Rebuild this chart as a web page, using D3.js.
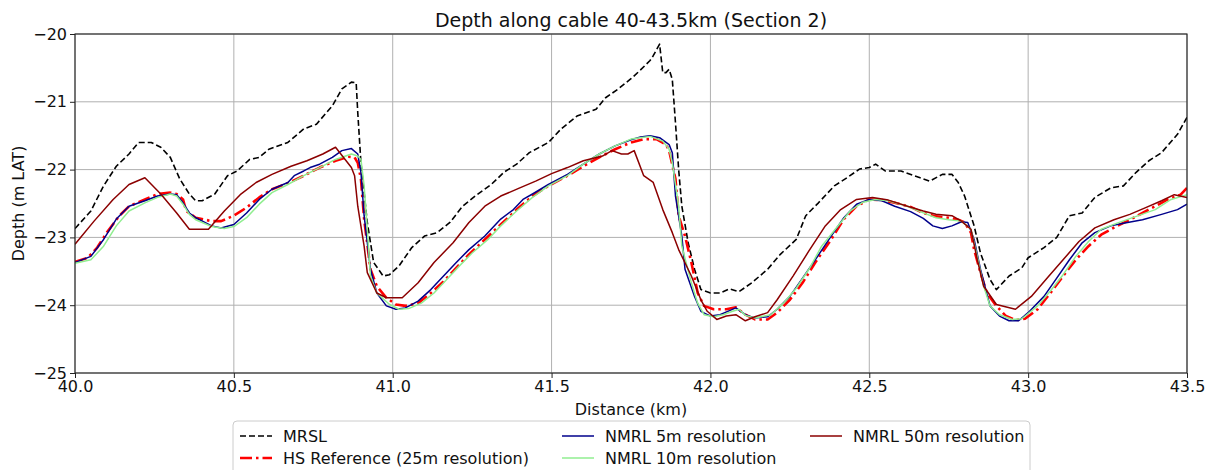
<!DOCTYPE html>
<html>
<head>
<meta charset="utf-8">
<script src="https://cdn.jsdelivr.net/npm/d3@7"></script>
<style>
  html, body { margin: 0; padding: 0; background: #fff; }
  svg { display: block; font-family: "DejaVu Sans", sans-serif; }
</style>
</head>
<body>
<svg id="chart" width="1212" height="470"></svg>
<script>
// Depth profiles along the cable route, [distance km, depth m LAT]
const mrsl = [
  [40.00,-22.87],[40.05,-22.61],[40.09,-22.24],[40.13,-21.95],[40.17,-21.77],[40.20,-21.60],
  [40.24,-21.60],[40.27,-21.67],[40.30,-21.82],[40.33,-22.14],[40.36,-22.36],[40.38,-22.46],
  [40.40,-22.46],[40.44,-22.36],[40.48,-22.09],[40.51,-22.02],[40.55,-21.85],[40.58,-21.82],
  [40.61,-21.70],[40.67,-21.60],[40.72,-21.40],[40.76,-21.33],[40.81,-21.06],[40.84,-20.81],
  [40.87,-20.71],[40.885,-20.72],[40.89,-21.16],[40.90,-21.90],[40.92,-22.78],[40.94,-23.37],
  [40.97,-23.57],[40.99,-23.55],[41.02,-23.42],[41.06,-23.15],[41.10,-22.98],[41.14,-22.93],
  [41.18,-22.78],[41.22,-22.54],[41.26,-22.39],[41.31,-22.22],[41.35,-22.04],[41.39,-21.92],
  [41.43,-21.75],[41.49,-21.60],[41.53,-21.40],[41.58,-21.21],[41.64,-21.11],[41.67,-20.94],
  [41.71,-20.81],[41.75,-20.66],[41.78,-20.53],[41.81,-20.39],[41.82,-20.32],[41.84,-20.15],
  [41.85,-20.57],[41.86,-20.57],[41.87,-20.52],[41.88,-20.67],[41.89,-21.31],[41.90,-22.00],
  [41.91,-22.54],[41.93,-23.08],[41.95,-23.47],[41.97,-23.77],[42.00,-23.82],[42.03,-23.82],
  [42.06,-23.76],[42.09,-23.80],[42.13,-23.67],[42.18,-23.47],[42.22,-23.25],[42.27,-23.03],
  [42.30,-22.68],[42.34,-22.49],[42.39,-22.24],[42.43,-22.12],[42.47,-21.99],[42.50,-21.97],
  [42.52,-21.92],[42.55,-22.02],[42.60,-22.02],[42.66,-22.12],[42.69,-22.17],[42.73,-22.07],
  [42.76,-22.07],[42.78,-22.19],[42.80,-22.39],[42.83,-22.83],[42.85,-23.23],[42.88,-23.62],
  [42.90,-23.77],[42.94,-23.57],[42.98,-23.45],[43.00,-23.30],[43.05,-23.15],[43.09,-23.00],
  [43.13,-22.68],[43.17,-22.64],[43.21,-22.41],[43.26,-22.27],[43.30,-22.24],[43.34,-22.04],
  [43.38,-21.87],[43.42,-21.75],[43.47,-21.48],[43.50,-21.23]
];

const hsReference = [
  [40.00,-23.36],[40.04,-23.30],[40.07,-23.15],[40.10,-22.93],[40.14,-22.68],[40.17,-22.54],
  [40.22,-22.44],[40.26,-22.36],[40.30,-22.34],[40.32,-22.36],[40.34,-22.44],[40.35,-22.61],
  [40.38,-22.71],[40.43,-22.76],[40.46,-22.76],[40.50,-22.68],[40.54,-22.56],[40.58,-22.41],
  [40.62,-22.29],[40.67,-22.20],[40.72,-22.09],[40.77,-21.97],[40.82,-21.87],[40.86,-21.81],
  [40.88,-21.82],[40.89,-21.90],[40.90,-22.14],[40.91,-22.73],[40.93,-23.47],[40.95,-23.72],
  [40.98,-23.89],[41.01,-23.99],[41.04,-24.01],[41.08,-23.97],[41.12,-23.82],[41.16,-23.65],
  [41.20,-23.45],[41.24,-23.25],[41.29,-23.03],[41.34,-22.81],[41.39,-22.59],[41.44,-22.39],
  [41.49,-22.24],[41.55,-22.09],[41.60,-21.95],[41.65,-21.82],[41.70,-21.70],[41.75,-21.60],
  [41.79,-21.55],[41.83,-21.55],[41.86,-21.63],[41.87,-21.72],[41.89,-22.14],[41.90,-22.68],
  [41.92,-22.98],[41.94,-23.37],[41.96,-23.82],[41.98,-24.01],[42.01,-24.06],[42.05,-24.06],
  [42.08,-24.03],[42.11,-24.14],[42.14,-24.21],[42.18,-24.21],[42.21,-24.11],[42.25,-23.92],
  [42.29,-23.67],[42.33,-23.37],[42.38,-23.03],[42.42,-22.73],[42.46,-22.54],[42.50,-22.44],
  [42.54,-22.45],[42.58,-22.49],[42.63,-22.55],[42.67,-22.64],[42.71,-22.69],[42.75,-22.71],
  [42.78,-22.74],[42.80,-22.78],[42.82,-22.93],[42.83,-23.18],[42.85,-23.52],[42.87,-23.82],
  [42.90,-24.01],[42.93,-24.16],[42.96,-24.22],[42.99,-24.20],[43.03,-24.06],[43.07,-23.82],
  [43.11,-23.57],[43.15,-23.33],[43.19,-23.13],[43.23,-22.96],[43.28,-22.83],[43.32,-22.74],
  [43.36,-22.64],[43.40,-22.54],[43.44,-22.44],[43.48,-22.37],[43.50,-22.27]
];

const nmrl5m = [
  [40.00,-23.37],[40.05,-23.28],[40.09,-23.03],[40.13,-22.73],[40.17,-22.54],[40.22,-22.46],
  [40.26,-22.39],[40.30,-22.36],[40.32,-22.37],[40.34,-22.49],[40.36,-22.64],[40.38,-22.71],
  [40.43,-22.83],[40.46,-22.86],[40.50,-22.81],[40.54,-22.64],[40.58,-22.44],[40.62,-22.29],
  [40.67,-22.19],[40.69,-22.09],[40.72,-22.02],[40.74,-21.97],[40.77,-21.92],[40.81,-21.82],
  [40.84,-21.72],[40.87,-21.69],[40.89,-21.77],[40.90,-22.04],[40.91,-22.68],[40.93,-23.47],
  [40.95,-23.82],[40.98,-24.01],[41.01,-24.06],[41.04,-24.04],[41.08,-23.94],[41.12,-23.77],
  [41.16,-23.57],[41.20,-23.37],[41.24,-23.18],[41.29,-22.98],[41.34,-22.73],[41.38,-22.59],
  [41.41,-22.44],[41.44,-22.36],[41.49,-22.22],[41.55,-22.07],[41.60,-21.92],[41.65,-21.77],
  [41.70,-21.65],[41.75,-21.56],[41.78,-21.52],[41.81,-21.50],[41.84,-21.53],[41.87,-21.63],
  [41.88,-21.75],[41.89,-22.39],[41.91,-22.98],[41.92,-23.47],[41.95,-23.87],[41.97,-24.09],
  [42.00,-24.16],[42.03,-24.14],[42.06,-24.08],[42.08,-24.04],[42.11,-24.14],[42.14,-24.19],
  [42.18,-24.17],[42.21,-24.06],[42.25,-23.87],[42.29,-23.60],[42.33,-23.33],[42.38,-22.98],
  [42.42,-22.71],[42.46,-22.51],[42.50,-22.44],[42.54,-22.46],[42.58,-22.54],[42.63,-22.62],
  [42.67,-22.72],[42.70,-22.83],[42.73,-22.87],[42.76,-22.83],[42.79,-22.77],[42.81,-22.78],
  [42.83,-23.03],[42.85,-23.47],[42.88,-24.01],[42.91,-24.16],[42.94,-24.23],[42.97,-24.23],
  [43.00,-24.11],[43.05,-23.87],[43.09,-23.60],[43.13,-23.33],[43.17,-23.08],[43.21,-22.93],
  [43.26,-22.83],[43.30,-22.79],[43.36,-22.74],[43.42,-22.66],[43.47,-22.59],[43.50,-22.51]
];

const nmrl10m = [
  [40.00,-23.38],[40.05,-23.33],[40.09,-23.13],[40.13,-22.83],[40.17,-22.61],[40.22,-22.49],
  [40.26,-22.41],[40.30,-22.36],[40.32,-22.39],[40.34,-22.51],[40.36,-22.66],[40.38,-22.74],
  [40.43,-22.84],[40.47,-22.87],[40.50,-22.84],[40.54,-22.71],[40.58,-22.51],[40.62,-22.34],
  [40.67,-22.22],[40.72,-22.09],[40.77,-21.97],[40.82,-21.85],[40.87,-21.77],[40.89,-21.80],
  [40.90,-21.85],[40.91,-22.24],[40.92,-22.88],[40.93,-23.57],[40.95,-23.82],[40.99,-23.99],
  [41.02,-24.06],[41.05,-24.05],[41.09,-23.97],[41.13,-23.82],[41.17,-23.62],[41.21,-23.42],
  [41.25,-23.23],[41.30,-23.03],[41.34,-22.83],[41.39,-22.61],[41.44,-22.41],[41.49,-22.24],
  [41.55,-22.09],[41.60,-21.92],[41.65,-21.77],[41.70,-21.65],[41.75,-21.55],[41.78,-21.53],
  [41.81,-21.51],[41.85,-21.58],[41.87,-21.70],[41.88,-21.90],[41.90,-22.54],[41.91,-23.13],
  [41.94,-23.67],[41.96,-23.97],[41.98,-24.14],[42.01,-24.17],[42.04,-24.14],[42.07,-24.09],
  [42.09,-24.06],[42.11,-24.15],[42.14,-24.19],[42.19,-24.14],[42.23,-23.97],[42.27,-23.75],
  [42.31,-23.47],[42.35,-23.13],[42.40,-22.84],[42.44,-22.61],[42.48,-22.48],[42.52,-22.44],
  [42.56,-22.46],[42.62,-22.54],[42.66,-22.62],[42.71,-22.71],[42.75,-22.74],[42.79,-22.76],
  [42.82,-22.88],[42.84,-23.28],[42.86,-23.72],[42.88,-24.01],[42.91,-24.14],[42.95,-24.21],
  [42.98,-24.20],[43.03,-24.01],[43.07,-23.79],[43.11,-23.55],[43.15,-23.28],[43.19,-23.06],
  [43.23,-22.88],[43.28,-22.79],[43.34,-22.69],[43.40,-22.59],[43.45,-22.44],[43.50,-22.37]
];

const nmrl50m = [
  [40.00,-23.10],[40.06,-22.76],[40.12,-22.44],[40.17,-22.22],[40.22,-22.12],[40.27,-22.36],
  [40.32,-22.64],[40.36,-22.88],[40.42,-22.88],[40.47,-22.61],[40.52,-22.37],[40.57,-22.19],
  [40.62,-22.07],[40.68,-21.95],[40.73,-21.87],[40.78,-21.77],[40.82,-21.67],[40.87,-21.97],
  [40.88,-22.09],[40.89,-22.54],[40.91,-23.13],[40.92,-23.52],[40.95,-23.82],[40.98,-23.89],
  [41.03,-23.89],[41.08,-23.67],[41.13,-23.37],[41.19,-23.08],[41.24,-22.78],[41.29,-22.54],
  [41.34,-22.39],[41.40,-22.27],[41.45,-22.17],[41.50,-22.06],[41.55,-21.97],[41.60,-21.87],
  [41.66,-21.80],[41.69,-21.72],[41.72,-21.77],[41.74,-21.77],[41.76,-21.72],[41.79,-22.09],
  [41.82,-22.19],[41.85,-22.59],[41.88,-22.93],[41.90,-23.18],[41.94,-23.57],[41.97,-23.92],
  [41.99,-24.09],[42.02,-24.21],[42.05,-24.16],[42.08,-24.14],[42.11,-24.23],[42.14,-24.17],
  [42.18,-24.11],[42.21,-23.92],[42.26,-23.57],[42.31,-23.20],[42.36,-22.84],[42.41,-22.59],
  [42.46,-22.44],[42.51,-22.41],[42.56,-22.45],[42.62,-22.54],[42.67,-22.61],[42.71,-22.66],
  [42.76,-22.68],[42.79,-22.76],[42.82,-22.88],[42.84,-23.33],[42.86,-23.72],[42.90,-23.99],
  [42.96,-24.06],[43.01,-23.87],[43.06,-23.60],[43.11,-23.33],[43.16,-23.06],[43.21,-22.86],
  [43.27,-22.74],[43.32,-22.66],[43.37,-22.56],[43.42,-22.46],[43.46,-22.37],[43.50,-22.41]
];

const xTicks = [40.0, 40.5, 41.0, 41.5, 42.0, 42.5, 43.0, 43.5];
const yTicks = [-25, -24, -23, -22, -21, -20];

const seriesNames = ["MRSL", "HS Reference (25m resolution)", "NMRL 5m resolution",
                     "NMRL 10m resolution", "NMRL 50m resolution"];

const series = [
  { name: seriesNames[0], data: mrsl,        color: "#000000", width: 1.6, dash: "6,3" },
  { name: seriesNames[1], data: hsReference, color: "#ff0000", width: 2.6, dash: "12,4,2.5,4" },
  { name: seriesNames[2], data: nmrl5m,      color: "#00008b", width: 1.5, dash: null },
  { name: seriesNames[3], data: nmrl10m,     color: "#90ee90", width: 1.5, dash: null },
  { name: seriesNames[4], data: nmrl50m,     color: "#8b0000", width: 1.5, dash: null }
];

const svg = d3.select("#chart");
const plot = { left: 75, right: 1187, top: 34, bottom: 373 };

const x = d3.scaleLinear().domain([40, 43.5]).range([plot.left, plot.right]);
const y = d3.scaleLinear().domain([-25, -20]).range([plot.bottom, plot.top]);

const fmtY = d => (d < 0 ? "\u2212" + Math.abs(d) : String(d));

// grid
const grid = svg.append("g");
grid.selectAll("line.gx").data(xTicks).join("line")
  .attr("x1", d => x(d)).attr("x2", d => x(d))
  .attr("y1", plot.top).attr("y2", plot.bottom)
  .attr("stroke", "#b0b0b0").attr("stroke-width", 1);
grid.selectAll("line.gy").data(yTicks).join("line")
  .attr("x1", plot.left).attr("x2", plot.right)
  .attr("y1", d => y(d)).attr("y2", d => y(d))
  .attr("stroke", "#b0b0b0").attr("stroke-width", 1);

// series
const line = d3.line().x(d => x(d[0])).y(d => y(d[1]));
svg.append("clipPath").attr("id", "plotclip").append("rect")
  .attr("x", plot.left).attr("y", plot.top)
  .attr("width", plot.right - plot.left).attr("height", plot.bottom - plot.top);

const lines = svg.append("g").attr("clip-path", "url(#plotclip)");
series.forEach(s => {
  lines.append("path")
    .datum(s.data)
    .attr("d", line)
    .attr("fill", "none")
    .attr("stroke", s.color)
    .attr("stroke-width", s.width)
    .attr("stroke-dasharray", s.dash)
    .attr("stroke-linejoin", "round");
});

// axes
const xAxis = d3.axisBottom(x).tickValues(xTicks).tickFormat(d3.format(".1f"))
  .tickSize(5).tickPadding(3);
const yAxis = d3.axisLeft(y).tickValues(yTicks).tickFormat(fmtY)
  .tickSize(5).tickPadding(3);

const gx = svg.append("g").attr("transform", `translate(0,${plot.bottom})`).call(xAxis);
const gy = svg.append("g").attr("transform", `translate(${plot.left},0)`).call(yAxis);
[gx, gy].forEach(g => {
  g.select(".domain").remove();
  g.selectAll("text").attr("font-size", 16).attr("fill", "#111")
    .attr("font-family", "DejaVu Sans, sans-serif");
  g.selectAll("line").attr("stroke", "#222");
});

// frame
svg.append("rect")
  .attr("x", plot.left).attr("y", plot.top)
  .attr("width", plot.right - plot.left).attr("height", plot.bottom - plot.top)
  .attr("fill", "none").attr("stroke", "#222").attr("stroke-width", 1.1);

// title and axis labels
svg.append("text")
  .attr("x", (plot.left + plot.right) / 2).attr("y", 27)
  .attr("text-anchor", "middle").attr("font-size", 19).attr("fill", "#111")
  .text("Depth along cable 40-43.5km (Section 2)");

svg.append("text")
  .attr("x", (plot.left + plot.right) / 2).attr("y", 415)
  .attr("text-anchor", "middle").attr("font-size", 16).attr("fill", "#111")
  .text("Distance (km)");

svg.append("text")
  .attr("transform", `translate(24,${(plot.top + plot.bottom) / 2}) rotate(-90)`)
  .attr("text-anchor", "middle").attr("font-size", 16).attr("fill", "#111")
  .text("Depth (m LAT)");

// legend, three columns
const legend = svg.append("g");
legend.append("rect")
  .attr("x", 233).attr("y", 421).attr("width", 797).attr("height", 70)
  .attr("rx", 4).attr("fill", "#fff").attr("fill-opacity", 0.8)
  .attr("stroke", "#cccccc").attr("stroke-width", 1);

const colX = [240, 562, 810];
const rowY = [436, 458];
series.forEach((s, i) => {
  const col = Math.floor(i / 2), row = i % 2;
  const lx = colX[col], ly = rowY[row];
  legend.append("line")
    .attr("x1", lx).attr("x2", lx + 32).attr("y1", ly).attr("y2", ly)
    .attr("stroke", s.color).attr("stroke-width", s.width)
    .attr("stroke-dasharray", s.dash);
  legend.append("text")
    .attr("x", lx + 43).attr("y", ly).attr("dy", "0.35em")
    .attr("font-size", 16).attr("fill", "#111")
    .text(s.name);
});
</script>
</body>
</html>
